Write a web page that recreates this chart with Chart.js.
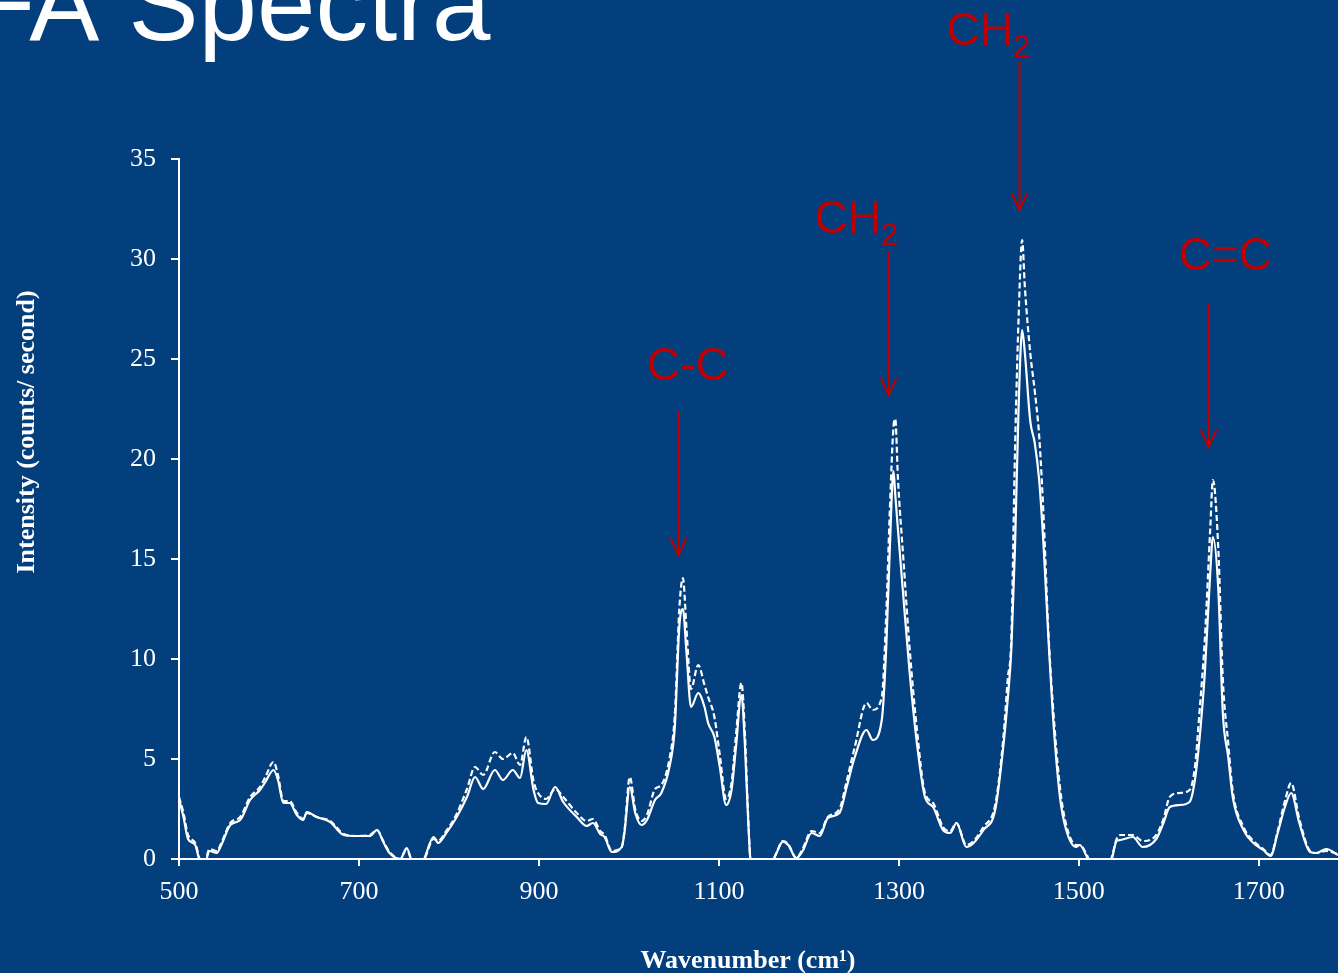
<!DOCTYPE html>
<html>
<head>
<meta charset="utf-8">
<title>FA Spectra</title>
<script src="https://cdn.jsdelivr.net/npm/chart.js@4.4.1/dist/chart.umd.min.js"></script>
<style>
  html, body { margin: 0; padding: 0; background: #033E7D; overflow: hidden; }
  #wrap { position: relative; width: 1338px; height: 973px; }
</style>
</head>
<body>
<div id="wrap"><canvas id="spectraChart" width="1338" height="973"></canvas></div>
<script>
/* =========================
   Data
========================= */
const wavenumbers = [
  500, 505, 510, 518, 523, 528, 534, 542, 547, 557, 568, 579, 590, 596, 605, 610, 616, 623, 631, 638,
  642, 653, 668, 683, 697, 712, 720, 727, 734, 746, 753, 760, 768, 773, 783, 788, 797, 808, 820, 829,
  838, 851, 860, 871, 879, 886, 894, 899, 908, 918, 927, 942, 953, 960, 968, 973, 981, 992, 995, 1001,
  1007, 1014, 1020, 1029, 1036, 1045, 1051, 1056, 1060, 1064, 1069, 1077, 1084, 1088, 1095, 1101, 1108, 1114, 1119, 1125,
  1129, 1132, 1136, 1150, 1158, 1164, 1171, 1177, 1186, 1193, 1203, 1212, 1221, 1234, 1242, 1251, 1264, 1271, 1281, 1286,
  1290, 1294, 1296, 1299, 1305, 1312, 1320, 1329, 1338, 1349, 1357, 1364, 1375, 1383, 1394, 1407, 1416, 1421, 1425, 1429,
  1433, 1437, 1440, 1446, 1451, 1456, 1461, 1466, 1471, 1479, 1486, 1497, 1501, 1509, 1514, 1530, 1536, 1542, 1546, 1560,
  1571, 1586, 1594, 1601, 1612, 1623, 1629, 1634, 1640, 1646, 1649, 1655, 1660, 1666, 1671, 1683, 1694, 1705, 1713, 1721,
  1729, 1736, 1745, 1757, 1764, 1775, 1788
];

// solid trace
const solidIntensity = [
  3.0, 2.1, 1.0, 0.7, -0.1, -0.3, 0.4, 0.3, 0.7, 1.7, 1.95, 2.95, 3.45, 3.85, 4.45, 3.95, 2.8, 2.8, 2.2, 1.95,
  2.35, 2.1, 1.85, 1.2, 1.15, 1.15, 1.45, 0.85, 0.3, 0.0, 0.55, -0.3, -0.5, 0.05, 1.1, 0.8, 1.3, 2.05, 3.1, 4.1,
  3.5, 4.45, 3.95, 4.45, 4.05, 5.45, 3.45, 2.8, 2.75, 3.6, 2.85, 2.1, 1.65, 1.8, 1.25, 1.1, 0.35, 0.6, 1.3, 3.6,
  2.3, 1.7, 1.95, 2.95, 3.3, 4.6, 6.6, 11.6, 12.5, 10.3, 7.6, 8.3, 7.6, 6.8, 6.1, 4.6, 2.7, 3.45, 5.6, 8.2,
  5.6, 2.45, -0.5, -1.0, -0.3, 0.3, 0.87, 0.7, 0.05, 0.4, 1.3, 1.15, 2.05, 2.3, 3.6, 5.1, 6.45, 5.95, 6.95, 10.6,
  15.6, 19.4, 18.2, 16.45, 13.1, 9.3, 5.8, 3.1, 2.6, 1.45, 1.3, 1.8, 0.6, 0.8, 1.45, 2.45, 5.6, 8.0, 10.5, 15.5,
  22.5, 26.45, 25.3, 21.9, 20.8, 18.9, 15.5, 11.2, 7.3, 3.1, 1.45, 0.6, 0.7, 0.1, -0.4, -0.5, -0.1, 0.9, 0.95, 1.1,
  0.6, 1.0, 1.8, 2.6, 2.7, 2.85, 3.95, 5.95, 9.3, 14.3, 16.1, 13.45, 7.3, 5.1, 3.1, 1.45, 0.8, 0.45, 0.15, 1.3,
  2.6, 3.3, 1.8, 0.35, 0.3, 0.5, 0.2
];

// dashed trace
const dashedIntensity = [
  3.1, 2.3, 1.2, 0.8, 0.0, -0.2, 0.5, 0.4, 0.8, 1.8, 2.1, 3.1, 3.6, 4.1, 4.85, 4.2, 2.9, 2.9, 2.3, 2.0,
  2.3, 2.1, 1.9, 1.25, 1.15, 1.2, 1.45, 0.9, 0.35, 0.0, 0.5, -0.3, -0.5, 0.0, 1.0, 0.9, 1.4, 2.2, 3.5, 4.6,
  4.2, 5.35, 5.0, 5.3, 4.7, 6.1, 3.9, 3.3, 3.0, 3.5, 3.1, 2.3, 1.9, 2.0, 1.4, 1.2, 0.4, 0.6, 1.4, 4.1,
  2.5, 1.9, 2.2, 3.5, 3.7, 5.0, 7.2, 12.5, 14.05, 11.5, 8.5, 9.7, 8.7, 8.1, 7.1, 5.2, 3.0, 3.8, 6.2, 8.8,
  6.2, 2.7, -0.5, -1.0, -0.3, 0.3, 0.9, 0.75, 0.05, 0.5, 1.4, 1.3, 2.1, 2.5, 3.9, 5.6, 7.8, 7.45, 8.1, 12.3,
  17.5, 21.6, 22.0, 19.0, 15.0, 10.5, 6.5, 3.3, 2.8, 1.6, 1.4, 1.8, 0.7, 0.9, 1.6, 2.7, 6.0, 9.0, 11.1, 20.3,
  27.0, 30.95, 28.6, 25.3, 23.4, 21.1, 16.95, 11.5, 7.8, 3.6, 1.7, 0.7, 0.7, 0.2, -0.3, -0.5, 0.0, 1.0, 1.2, 1.2,
  0.9, 1.2, 2.0, 3.1, 3.3, 3.45, 4.6, 7.3, 11.0, 16.5, 18.95, 15.5, 9.0, 5.8, 3.4, 1.6, 0.9, 0.5, 0.2, 1.4,
  2.9, 3.8, 2.0, 0.4, 0.3, 0.4, 0.25
];

const xTicks = [500, 700, 900, 1100, 1300, 1500, 1700];

// peak annotations (data units)
const peakNames   = ['C-C', 'CH2', 'CH2', 'C=C'];
const peakArrowX  = [1054, 1288, 1434, 1644];
const arrowFromY  = [22.35, 30.35, 39.85, 27.8];
const arrowToY    = [15.2, 23.2, 32.45, 20.6];
const peakLabelX  = [1065.5, 1252.8, 1399.4, 1662.8];
const peakLabelY  = [23.95, 31.3, 40.7, 29.45];

/* =========================
   Helpers
========================= */
const serif = "'Liberation Serif', 'Times New Roman', serif";
const sans = "'Liberation Sans', Arial, sans-serif";
const RED = '#C00000';

function toPoints(xs, ys) {
    return xs.map((x, i) => ({ x, y: ys[i] }));
}

// title, axis titles, arrows + peak labels
const overlayPlugin = {
    id: 'overlay',
    afterDraw(chart) {
        const { ctx, scales: { x, y } } = chart;
        ctx.save();

        // slide title (left part is cut off)
        ctx.fillStyle = '#ffffff';
        ctx.font = `105px ${sans}`;
        ctx.textBaseline = 'alphabetic';
        ctx.textAlign = 'left';
        ctx.fillText('FA Spectra', -29, 40);

        // axis titles
        ctx.font = `bold 26px ${serif}`;
        ctx.textAlign = 'center';
        ctx.fillText('Wavenumber (cm\u00B9)', 748, 968);
        ctx.save();
        ctx.translate(34, 432);
        ctx.rotate(-Math.PI / 2);
        ctx.fillText('Intensity (counts/ second)', 0, 0);
        ctx.restore();

        ctx.strokeStyle = RED;
        ctx.fillStyle = RED;
        ctx.lineWidth = 2;
        peakNames.forEach((name, i) => {
            const px = Math.round(x.getPixelForValue(peakArrowX[i])) + 0.5;
            const y0 = y.getPixelForValue(arrowFromY[i]);
            const y1 = y.getPixelForValue(arrowToY[i]);
            ctx.beginPath();
            ctx.moveTo(px, y0);
            ctx.lineTo(px, y1);
            ctx.moveTo(px - 8, y1 - 17);
            ctx.lineTo(px, y1);
            ctx.lineTo(px + 8, y1 - 17);
            ctx.stroke();

            const lx = x.getPixelForValue(peakLabelX[i]);
            const ly = y.getPixelForValue(peakLabelY[i]);
            ctx.textBaseline = 'alphabetic';
            if (name.endsWith('2')) {
                const main = name.slice(0, -1);
                ctx.font = `46px ${sans}`;
                const w1 = ctx.measureText(main).width;
                ctx.font = `31px ${sans}`;
                const w2 = ctx.measureText('2').width;
                const left = lx - (w1 + w2) / 2;
                ctx.textAlign = 'left';
                ctx.font = `46px ${sans}`;
                ctx.fillText(main, left, ly);
                ctx.font = `31px ${sans}`;
                ctx.fillText('2', left + w1, ly + 12);
            } else {
                ctx.textAlign = 'center';
                ctx.font = `46px ${sans}`;
                ctx.fillText(name, lx, ly);
            }
        });
        ctx.restore();
    }
};

/* =========================
   Chart
========================= */
const lineStyle = {
    borderColor: '#ffffff',
    borderWidth: 2.2,
    pointRadius: 0,
    fill: false,
    cubicInterpolationMode: 'monotone'
};

const spectraChart = new Chart(document.getElementById('spectraChart'), {
    type: 'line',
    data: {
        datasets: [
            { ...lineStyle, label: 'Spectrum 1', data: toPoints(wavenumbers, solidIntensity) },
            { ...lineStyle, label: 'Spectrum 2', data: toPoints(wavenumbers, dashedIntensity), borderDash: [6, 3] }
        ]
    },
    options: {
        responsive: false,
        animation: false,
        layout: { padding: { top: 159, left: 0, right: 0, bottom: 0 } },
        plugins: { legend: { display: false }, tooltip: { enabled: false } },
        scales: {
            x: {
                type: 'linear',
                min: 500,
                max: 1788,
                afterBuildTicks: s => { s.ticks = xTicks.map(v => ({ value: v })); },
                afterFit: s => { s.height = 114; },
                ticks: {
                    color: '#ffffff', font: { family: serif, size: 26 }, padding: 11,
                    maxRotation: 0, autoSkip: false, callback: v => String(v)
                },
                grid: { drawOnChartArea: false, drawTicks: true, tickLength: 7, color: '#ffffff', lineWidth: 2 },
                border: { color: '#ffffff', width: 2 }
            },
            y: {
                min: 0,
                max: 35,
                afterFit: s => { s.width = 179; },
                ticks: { stepSize: 5, color: '#ffffff', font: { family: serif, size: 26 }, padding: 15 },
                grid: { drawOnChartArea: false, drawTicks: true, tickLength: 8, color: '#ffffff', lineWidth: 2 },
                border: { color: '#ffffff', width: 2 }
            }
        }
    },
    plugins: [overlayPlugin]
});
</script>
</body>
</html>
